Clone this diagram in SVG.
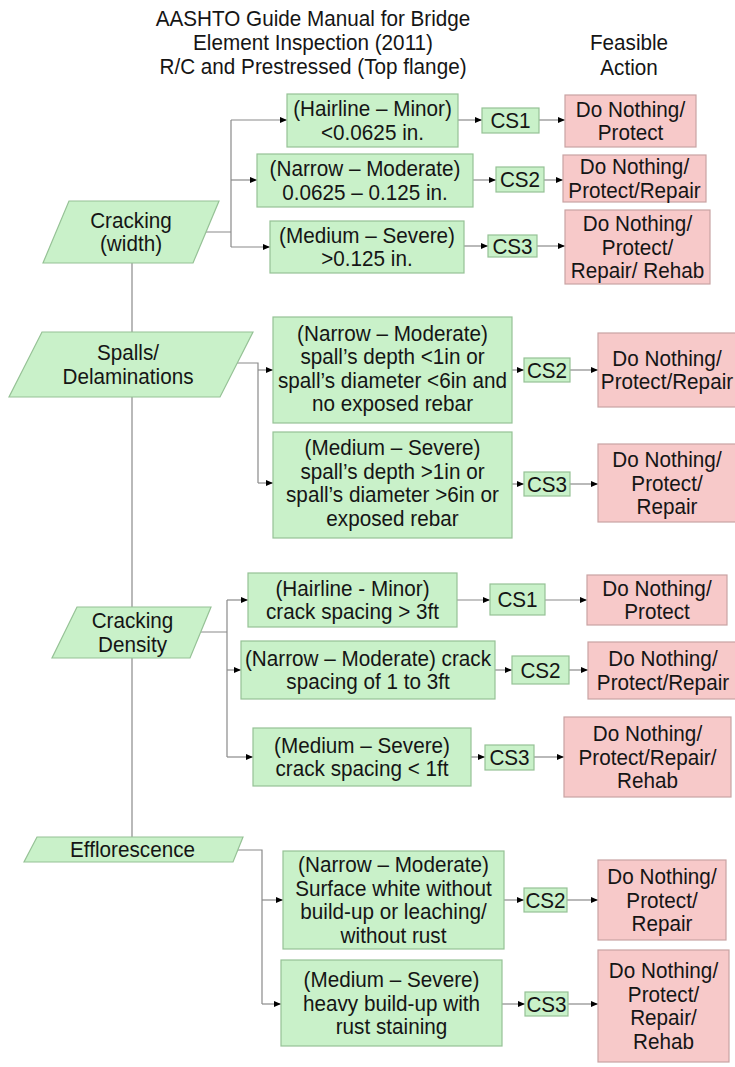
<svg xmlns="http://www.w3.org/2000/svg" width="735" height="1067" viewBox="0 0 735 1067">
<defs>
<marker id="ah" markerWidth="7" markerHeight="6" refX="7" refY="3" orient="auto" markerUnits="userSpaceOnUse"><path d="M0,0 L7,3 L0,6 z" fill="#000"/></marker>
<style>
text{font-family:"Liberation Sans",Arial,sans-serif;font-size:22.5px;fill:#151515;text-anchor:middle}
.g{fill:#c9f1c9;stroke:#96c296;stroke-width:1.2}
.p{fill:#f7c9c9;stroke:#c9a3a3;stroke-width:1.2}
.c{fill:none;stroke:#8a8a8a;stroke-width:1.2}
.a{fill:none;stroke:#8a8a8a;stroke-width:1.2;marker-end:url(#ah)}
</style>
</defs>
<rect width="735" height="1067" fill="#fff"/>
<g id="title">
<g transform="translate(313 0) scale(0.92 1)">
<text x="0" y="26">AASHTO Guide Manual for Bridge</text>
<text x="0" y="50.5">Element Inspection (2011)</text>
<text x="0" y="74.5">R/C and Prestressed (Top flange)</text>
</g>
<g transform="translate(629 0) scale(0.92 1)">
<text x="0" y="50.5">Feasible</text>
<text x="0" y="75.5">Action</text>
</g>
</g>
<g id="connectors">
<path class="c" d="M132,263 V837"/>
<path class="c" d="M206,232 H231 M231,120 V247"/>
<path class="a" d="M231,120 H287"/>
<path class="a" d="M231,180 H257"/>
<path class="a" d="M231,247 H270"/>
<path class="a" d="M458,120 H482"/>
<path class="a" d="M539,120 H565"/>
<path class="a" d="M473,180 H496"/>
<path class="a" d="M544,180 H563"/>
<path class="a" d="M464,246 H488"/>
<path class="a" d="M537,246 H565"/>
<path class="c" d="M237,363 H258 V483"/>
<path class="a" d="M258,370 H273"/>
<path class="a" d="M258,483 H273"/>
<path class="a" d="M512,370 H524"/>
<path class="a" d="M570,370 H598"/>
<path class="a" d="M512,484 H524"/>
<path class="a" d="M570,484 H598"/>
<path class="c" d="M201,632 H227 M227,600 V757"/>
<path class="a" d="M227,600 H248"/>
<path class="a" d="M227,670 H241"/>
<path class="a" d="M227,757 H253"/>
<path class="a" d="M457,600 H490"/>
<path class="a" d="M545,600 H587"/>
<path class="a" d="M495,670 H512"/>
<path class="a" d="M569,670 H588"/>
<path class="a" d="M471,757 H485"/>
<path class="a" d="M534,757 H564"/>
<path class="c" d="M236,850 H262 V1004"/>
<path class="a" d="M262,900 H283"/>
<path class="a" d="M262,1004 H281"/>
<path class="a" d="M504,900 H524"/>
<path class="a" d="M567,900 H598"/>
<path class="a" d="M502,1004 H525"/>
<path class="a" d="M568,1004 H598"/>
</g>
<g id="cracking-width">
<polygon class="g" points="69,201 219,201 193,263 43,263"/>
<g transform="translate(131 0) scale(0.92 1)"><text x="0" y="228">Cracking</text><text x="0" y="251.5">(width)</text></g>
</g>
<g id="cw-minor">
<rect class="g" x="287" y="94" width="171" height="53"/>
<g transform="translate(372.5 0) scale(0.92 1)"><text x="0" y="116.5">(Hairline – Minor)</text><text x="0" y="140">&lt;0.0625 in.</text></g>
</g>
<g id="cw-cs1"><rect class="g" x="482" y="108" width="57" height="25"/><g transform="translate(510.5 0) scale(0.92 1)"><text x="0" y="128.5">CS1</text></g></g>
<g id="cw-act1">
<rect class="p" x="565" y="95" width="131" height="52"/>
<g transform="translate(630.5 0) scale(0.92 1)"><text x="0" y="117">Do Nothing/</text><text x="0" y="140.5">Protect</text></g>
</g>
<g id="cw-moderate">
<rect class="g" x="257" y="154" width="216" height="53"/>
<g transform="translate(365 0) scale(0.92 1)"><text x="0" y="176.5">(Narrow – Moderate)</text><text x="0" y="200">0.0625 – 0.125 in.</text></g>
</g>
<g id="cw-cs2"><rect class="g" x="496" y="167" width="48" height="25"/><g transform="translate(520 0) scale(0.92 1)"><text x="0" y="187.5">CS2</text></g></g>
<g id="cw-act2">
<rect class="p" x="563" y="155" width="143" height="47"/>
<g transform="translate(634.5 0) scale(0.92 1)"><text x="0" y="174.5">Do Nothing/</text><text x="0" y="198">Protect/Repair</text></g>
</g>
<g id="cw-severe">
<rect class="g" x="270" y="221" width="194" height="52"/>
<g transform="translate(367 0) scale(0.92 1)"><text x="0" y="243">(Medium – Severe)</text><text x="0" y="266.5">&gt;0.125 in.</text></g>
</g>
<g id="cw-cs3"><rect class="g" x="488" y="235" width="49" height="22"/><g transform="translate(512.5 0) scale(0.92 1)"><text x="0" y="253.8">CS3</text></g></g>
<g id="cw-act3">
<rect class="p" x="565" y="210" width="145" height="74"/>
<g transform="translate(637.5 0) scale(0.92 1)"><text x="0" y="231.3">Do Nothing/</text><text x="0" y="254.8">Protect/</text><text x="0" y="278.3">Repair/ Rehab</text></g>
</g>
<g id="spalls">
<polygon class="g" points="42,332 253,332 220,397 9,397"/>
<g transform="translate(128 0) scale(0.92 1)"><text x="0" y="360.5">Spalls/</text><text x="0" y="384">Delaminations</text></g>
</g>
<g id="sp-moderate">
<rect class="g" x="273" y="317" width="239" height="106"/>
<g transform="translate(392.5 0) scale(0.92 1)"><text x="0" y="341">(Narrow – Moderate)</text><text x="0" y="364.5">spall’s depth &lt;1in or</text><text x="0" y="388">spall’s diameter &lt;6in and</text><text x="0" y="411.5">no exposed rebar</text></g>
</g>
<g id="sp-cs2"><rect class="g" x="524" y="358" width="46" height="24"/><g transform="translate(547 0) scale(0.92 1)"><text x="0" y="378">CS2</text></g></g>
<g id="sp-act2">
<rect class="p" x="598" y="333" width="140" height="74"/>
<g transform="translate(667 0) scale(0.92 1)"><text x="0" y="366">Do Nothing/</text><text x="0" y="389.5">Protect/Repair</text></g>
</g>
<g id="sp-severe">
<rect class="g" x="273" y="432" width="239" height="106"/>
<g transform="translate(392.5 0) scale(0.92 1)"><text x="0" y="455.5">(Medium – Severe)</text><text x="0" y="479">spall’s depth &gt;1in or</text><text x="0" y="502.5">spall’s diameter &gt;6in or</text><text x="0" y="526">exposed rebar</text></g>
</g>
<g id="sp-cs3"><rect class="g" x="524" y="472" width="46" height="24"/><g transform="translate(547 0) scale(0.92 1)"><text x="0" y="491.8">CS3</text></g></g>
<g id="sp-act3">
<rect class="p" x="598" y="444" width="140" height="78"/>
<g transform="translate(667 0) scale(0.92 1)"><text x="0" y="467.3">Do Nothing/</text><text x="0" y="490.8">Protect/</text><text x="0" y="514.3">Repair</text></g>
</g>
<g id="cracking-density">
<polygon class="g" points="77,607 211,607 190,658 52,658"/>
<g transform="translate(132.5 0) scale(0.92 1)"><text x="0" y="628.5">Cracking</text><text x="0" y="652">Density</text></g>
</g>
<g id="cd-minor">
<rect class="g" x="248" y="573" width="209" height="54"/>
<g transform="translate(352.5 0) scale(0.92 1)"><text x="0" y="596">(Hairline - Minor)</text><text x="0" y="619.5">crack spacing &gt; 3ft</text></g>
</g>
<g id="cd-cs1"><rect class="g" x="490" y="584" width="55" height="31"/><g transform="translate(517.5 0) scale(0.92 1)"><text x="0" y="607.3">CS1</text></g></g>
<g id="cd-act1">
<rect class="p" x="587" y="575" width="140" height="50"/>
<g transform="translate(657 0) scale(0.92 1)"><text x="0" y="596">Do Nothing/</text><text x="0" y="619.5">Protect</text></g>
</g>
<g id="cd-moderate">
<rect class="g" x="241" y="641" width="254" height="58"/>
<g transform="translate(368 0) scale(0.92 1)"><text x="0" y="666">(Narrow – Moderate) crack</text><text x="0" y="689.5">spacing of 1 to 3ft</text></g>
</g>
<g id="cd-cs2"><rect class="g" x="512" y="656" width="57" height="28"/><g transform="translate(540.5 0) scale(0.92 1)"><text x="0" y="677.8">CS2</text></g></g>
<g id="cd-act2">
<rect class="p" x="588" y="642" width="150" height="57"/>
<g transform="translate(663 0) scale(0.92 1)"><text x="0" y="666.5">Do Nothing/</text><text x="0" y="690">Protect/Repair</text></g>
</g>
<g id="cd-severe">
<rect class="g" x="253" y="728" width="218" height="58"/>
<g transform="translate(362 0) scale(0.92 1)"><text x="0" y="753">(Medium – Severe)</text><text x="0" y="776.5">crack spacing &lt; 1ft</text></g>
</g>
<g id="cd-cs3"><rect class="g" x="485" y="745" width="49" height="25"/><g transform="translate(509.5 0) scale(0.92 1)"><text x="0" y="765.3">CS3</text></g></g>
<g id="cd-act3">
<rect class="p" x="564" y="717" width="167" height="80"/>
<g transform="translate(647.5 0) scale(0.92 1)"><text x="0" y="741.3">Do Nothing/</text><text x="0" y="764.8">Protect/Repair/</text><text x="0" y="788.3">Rehab</text></g>
</g>
<g id="efflorescence">
<polygon class="g" points="37,837 243,837 233,862 24,862"/>
<g transform="translate(132.5 0) scale(0.92 1)"><text x="0" y="857.5">Efflorescence</text></g>
</g>
<g id="ef-moderate">
<rect class="g" x="283" y="851" width="221" height="98"/>
<g transform="translate(393.5 0) scale(0.92 1)"><text x="0" y="872.5">(Narrow – Moderate)</text><text x="0" y="896">Surface white without</text><text x="0" y="919.5">build-up or leaching/</text><text x="0" y="943">without rust</text></g>
</g>
<g id="ef-cs2"><rect class="g" x="524" y="888" width="43" height="24"/><g transform="translate(545.5 0) scale(0.92 1)"><text x="0" y="907.8">CS2</text></g></g>
<g id="ef-act2">
<rect class="p" x="598" y="860" width="128" height="80"/>
<g transform="translate(662 0) scale(0.92 1)"><text x="0" y="884.3">Do Nothing/</text><text x="0" y="907.8">Protect/</text><text x="0" y="931.3">Repair</text></g>
</g>
<g id="ef-severe">
<rect class="g" x="281" y="960" width="221" height="86"/>
<g transform="translate(391.5 0) scale(0.92 1)"><text x="0" y="987.3">(Medium – Severe)</text><text x="0" y="1010.8">heavy build-up with</text><text x="0" y="1034.3">rust staining</text></g>
</g>
<g id="ef-cs3"><rect class="g" x="525" y="992" width="43" height="24"/><g transform="translate(546.5 0) scale(0.92 1)"><text x="0" y="1011.8">CS3</text></g></g>
<g id="ef-act3">
<rect class="p" x="598" y="950" width="131" height="112"/>
<g transform="translate(663.5 0) scale(0.92 1)"><text x="0" y="978.5">Do Nothing/</text><text x="0" y="1002">Protect/</text><text x="0" y="1025.5">Repair/</text><text x="0" y="1049">Rehab</text></g>
</g>
</svg>
